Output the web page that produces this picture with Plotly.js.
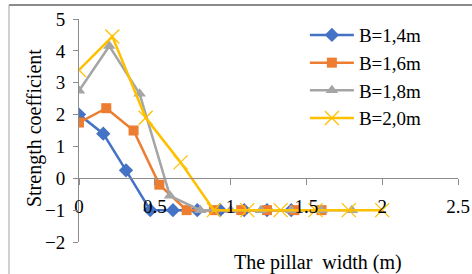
<!DOCTYPE html>
<html>
<head>
<meta charset="utf-8">
<script src="https://cdn.plot.ly/plotly-3.0.1.min.js"></script>
<style>html,body{margin:0;padding:0;background:#fff;}#chart{width:472px;height:274px;}</style>
</head>
<body>
<div id="chart"></div>
<script>
const seriesNames = ['B=1,4m', 'B=1,6m', 'B=1,8m', 'B=2,0m'];
const xB14 = [0, 0.16, 0.31, 0.47, 0.62, 0.78, 0.93, 1.09, 1.24, 1.4];
const yB14 = [2.0, 1.4, 0.25, -1, -1, -1, -1, -1, -1, -1];
const xB16 = [0, 0.18, 0.36, 0.53, 0.71, 0.89, 1.07, 1.24, 1.42, 1.6];
const yB16 = [1.75, 2.2, 1.5, -0.2, -1, -1, -1, -1, -1, -1];
const xB18 = [0, 0.2, 0.4, 0.6, 0.8, 1.0, 1.2, 1.4, 1.6, 1.8];
const yB18 = [2.75, 4.15, 2.65, -0.55, -1, -1, -1, -1, -1, -1];
const xB20 = [0, 0.22, 0.44, 0.67, 0.89, 1.11, 1.33, 1.56, 1.78, 2.0];
const yB20 = [3.4, 4.45, 1.9, 0.5, -1, -1, -1, -1, -1, -1];
const xTitle = 'The pillar  width (m)';
const yTitle = 'Strength coefficient';

const FONT = '"Liberation Serif", "Times New Roman", serif';
const axisColor = '#8c8c8c';

const traces = [
  {x: xB14, y: yB14, name: seriesNames[0], mode: 'lines+markers',
   line: {color: '#4472C4', width: 2.5},
   marker: {symbol: 'diamond', size: 11, color: '#4472C4'}},
  {x: xB16, y: yB16, name: seriesNames[1], mode: 'lines+markers',
   line: {color: '#ED7D31', width: 2.5},
   marker: {symbol: 'square', size: 10, color: '#ED7D31'}},
  {x: xB18, y: yB18, name: seriesNames[2], mode: 'lines+markers',
   line: {color: '#A5A5A5', width: 2.5},
   marker: {symbol: 'triangle-up', size: 11, color: '#A5A5A5'}},
  {x: xB20, y: yB20, name: seriesNames[3], mode: 'lines+markers',
   line: {color: '#FFC000', width: 2.5},
   marker: {symbol: 'x-thin-open', size: 14, color: '#FFC000', line: {color: '#FFC000', width: 1.3}}}
];

const layout = {
  width: 472, height: 274,
  margin: {l: 79, r: 14, t: 19, b: 32},
  paper_bgcolor: '#ffffff', plot_bgcolor: '#ffffff',
  font: {family: FONT, size: 19, color: '#000'},
  showlegend: true,
  legend: {x: 0.596, y: 1.013, xanchor: 'left', yanchor: 'top',
           font: {family: FONT, size: 19, color: '#000'},
           bgcolor: 'rgba(0,0,0,0)', itemwidth: 44, tracegroupgap: 0},
  xaxis: {range: [0, 2.5], dtick: 0.5, tick0: 0, anchor: 'free', position: 2/7,
          showline: true, linecolor: axisColor, linewidth: 1,
          ticks: 'outside', ticklen: 6, tickcolor: axisColor,
          ticklabelstandoff: 5, showgrid: false, zeroline: false,
          tickfont: {family: FONT, size: 19, color: '#000'}, fixedrange: true},
  yaxis: {range: [-2, 5], dtick: 1, tick0: 0,
          showline: true, linecolor: axisColor, linewidth: 1,
          ticks: 'outside', ticklen: 5, tickcolor: axisColor,
          ticklabelstandoff: 4, showgrid: false, zeroline: false,
          tickfont: {family: FONT, size: 19, color: '#000'},
          automargin: false, fixedrange: true},
  annotations: [
    {text: xTitle, xref: 'paper', yref: 'paper', x: 0.6306, y: -0.0897,
     xanchor: 'center', yanchor: 'middle', showarrow: false,
     font: {family: FONT, size: 20, color: '#000'}},
    {text: yTitle, xref: 'paper', yref: 'paper', x: -0.1187, y: 0.511,
     xanchor: 'center', yanchor: 'middle', textangle: -90, showarrow: false,
     font: {family: FONT, size: 20, color: '#000'}}
  ],
  shapes: [
    {type: 'line', xref: 'paper', yref: 'paper', x0: -0.1847, x1: 1.06, y0: 1.0628, y1: 1.0628,
     line: {color: '#8a8a8a', width: 2}},
    {type: 'line', xref: 'paper', yref: 'paper', x0: -0.1847, x1: -0.1847, y0: 1.0628, y1: -0.2,
     line: {color: '#a0a0a0', width: 1}}
  ]
};

Plotly.newPlot('chart', traces, layout, {displayModeBar: false, staticPlot: true});
</script>
</body>
</html>
